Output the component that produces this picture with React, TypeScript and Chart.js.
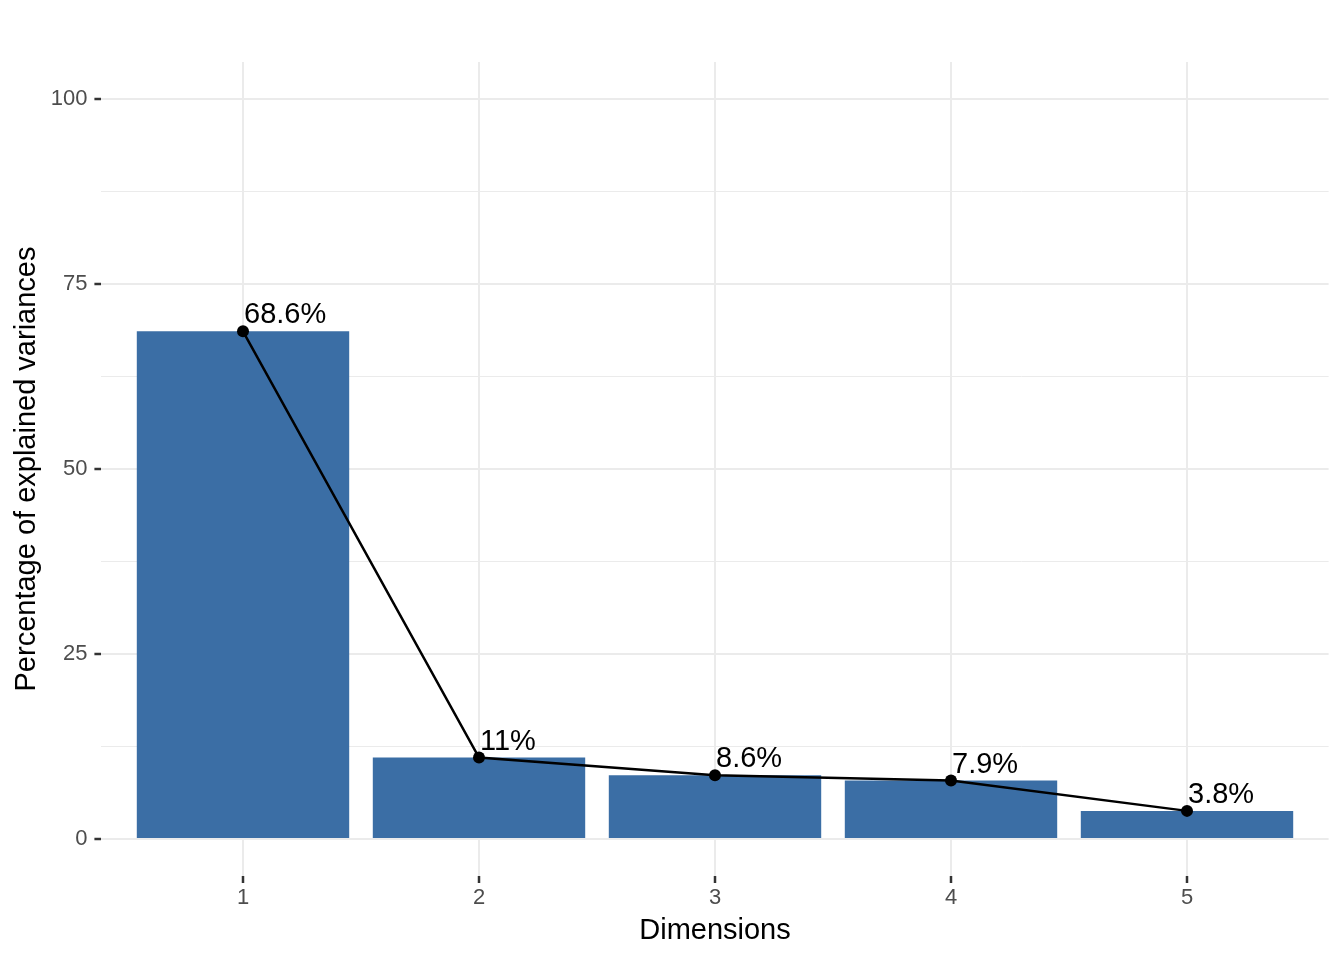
import { useEffect, useRef } from 'react';
import { Chart, registerables } from 'chart.js';

Chart.register(...registerables);

const dimensions = ['1', '2', '3', '4', '5'];
const variances = [68.6, 11.0, 8.6, 7.9, 3.8];
const yTicks = [0, 12.5, 25, 37.5, 50, 62.5, 75, 87.5, 100];

const FONT = '"Liberation Sans", Arial, Helvetica, sans-serif';
const BAR = '#3B6EA5';
const GRID = '#EBEBEB';

// writes the "68.6%" style labels next to each point
const pointLabels = {
	id: 'pointLabels',
	afterDatasetsDraw(chart: Chart) {
		const meta = chart.getDatasetMeta(1);
		const ctx = chart.ctx;
		ctx.save();
		ctx.font = `29px ${FONT}`;
		ctx.fillStyle = '#000000';
		ctx.textAlign = 'left';
		ctx.textBaseline = 'alphabetic';
		meta.data.forEach((pt: any, i: number) => {
			ctx.fillText(`${variances[i]}%`, pt.x + 1, pt.y - 8);
		});
		ctx.restore();
	},
};

const App = () => {
	const canvasRef = useRef<HTMLCanvasElement | null>(null);

	useEffect(() => {
		if (!canvasRef.current) return;
		const points = variances.map((v, i) => ({ x: i + 1, y: v }));
		const chart = new Chart(canvasRef.current, {
			type: 'bar',
			data: {
				datasets: [
					{
						type: 'bar',
						data: points,
						backgroundColor: BAR,
						borderColor: BAR,
						borderWidth: 0,
						barPercentage: 0.9,
						categoryPercentage: 1,
						order: 1,
					},
					{
						type: 'line',
						data: points,
						borderColor: '#000000',
						borderWidth: 2.5,
						pointRadius: 6,
						pointBackgroundColor: '#000000',
						pointBorderWidth: 0,
						tension: 0,
						order: 0,
					},
				],
			} as any,
			options: {
				animation: false,
				responsive: false,
				devicePixelRatio: 1,
				layout: { padding: { top: 62, right: 15.4, left: 0, bottom: 0 } },
				plugins: {
					legend: { display: false },
					tooltip: { enabled: false },
				},
				scales: {
					x: {
						type: 'linear',
						min: 0.4,
						max: 5.6,
						offset: false,
						afterBuildTicks: (axis: any) => {
							axis.ticks = dimensions.map((_, i) => ({ value: i + 1 }));
						},
						afterFit: (axis: any) => {
							axis.height = 84;
						},
						ticks: {
							callback: (v: any) => dimensions[Number(v) - 1] ?? '',
							color: '#4D4D4D',
							font: { family: FONT, size: 22 },
							padding: 2,
							maxRotation: 0,
						},
						grid: {
							offset: false,
							color: GRID,
							lineWidth: 2,
							tickColor: '#333333',
							tickWidth: 2.5,
							tickLength: 7,
						},
						border: { display: false },
						title: {
							display: true,
							text: 'Dimensions',
							color: '#000000',
							font: { family: FONT, size: 29 },
							padding: { top: 0, bottom: 12 },
						},
					},
					y: {
						min: -5,
						max: 105,
						afterBuildTicks: (axis: any) => {
							axis.ticks = yTicks.map((v) => ({ value: v }));
						},
						afterFit: (axis: any) => {
							axis.width = 101.4;
						},
						ticks: {
							callback: (v: any) => (Number(v) % 25 === 0 ? String(v) : ''),
							color: '#4D4D4D',
							font: { family: FONT, size: 22 },
							padding: 7,
						},
						grid: {
							color: GRID,
							lineWidth: (c: any) => (c.tick && c.tick.value % 25 === 0 ? 2 : 1),
							tickColor: (c: any) =>
								c.tick && c.tick.value % 25 === 0 ? '#333333' : 'rgba(0,0,0,0)',
							tickWidth: 2.5,
							tickLength: 7,
						},
						border: { display: false },
						title: {
							display: true,
							text: 'Percentage of explained variances',
							color: '#000000',
							font: { family: FONT, size: 29 },
							padding: { top: 10, bottom: 0 },
						},
					},
				},
			} as any,
			plugins: [pointLabels],
		});
		return () => chart.destroy();
	}, []);

	return (
		<div style={{ position: 'absolute', left: 0, top: 0, width: 1344, height: 960, background: '#FFFFFF' }}>
			<canvas ref={canvasRef} width={1344} height={960} />
		</div>
	);
};

export default App;
